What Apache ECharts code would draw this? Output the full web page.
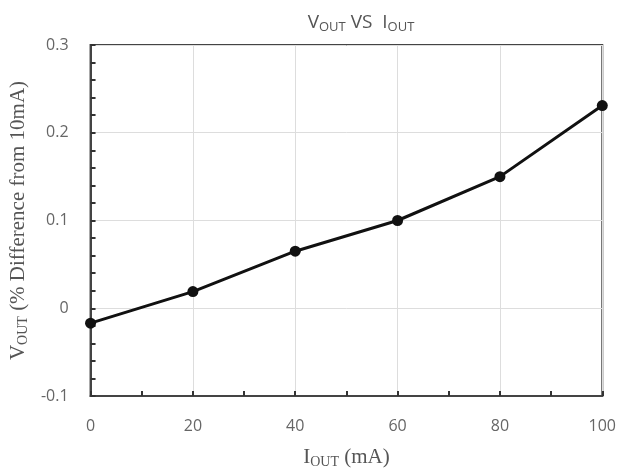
<!DOCTYPE html>
<html><head><meta charset="utf-8">
<script src="https://cdn.jsdelivr.net/npm/echarts@6/dist/echarts.min.js"></script>
<style>html,body{margin:0;padding:0;background:#fff}#c{width:619px;height:474px}</style>
</head><body><div id="c"></div>
<script>
const xValues = [0, 20, 40, 60, 80, 100];
const yValues = [-0.017, 0.019, 0.065, 0.1, 0.15, 0.231];
const xTicks = [0, 20, 40, 60, 80, 100];
const yTicks = [-0.1, 0, 0.1, 0.2, 0.3];

const chart = echarts.init(document.getElementById('c'));
chart.setOption({
  animation: false,
  title: {
    text: 'V{s|OUT} VS  I{s|OUT}',
    left: 356, top: 7, textAlign: 'center',
    textStyle: {fontFamily: 'Open Sans', fontWeight: 'normal', fontSize: 19, color: '#555',
      rich: {s: {fontFamily: 'Open Sans', fontSize: 13, color: '#555', padding: [9,0,0,0]}}}
  },
  grid: {left: 87, right: 16, top: 45, bottom: 77, show: true, borderColor: '#444', borderWidth: 2},
  xAxis: {
    type: 'value', min: 0, max: 100, interval: 20,
    name: 'I{s|OUT} (mA)', nameLocation: 'middle', nameGap: 50,
    nameTextStyle: {fontFamily: 'Liberation Serif', fontSize: 21, color: '#555',
      rich: {s: {fontFamily: 'Liberation Serif', fontSize: 14, color: '#555', padding: [9,0,0,0]}}},
    axisLine: {show: true, onZero: false, lineStyle: {color: '#444', width: 2}},
    axisTick: {show: true, inside: true, length: 5, lineStyle: {color: '#333', width: 2}},
    minorTick: {show: true, splitNumber: 2, length: 5, lineStyle: {color: '#333', width: 2}},
    axisLabel: {fontFamily: 'Open Sans', fontSize: 16, color: '#666', margin: 22},
    splitLine: {show: true, lineStyle: {color: '#ddd', width: 1}}
  },
  yAxis: {
    type: 'value', min: -0.1, max: 0.3, interval: 0.1,
    name: 'V{s|OUT} (% Difference from 10mA)', nameLocation: 'middle', nameGap: 58, nameRotate: 90,
    nameTextStyle: {fontFamily: 'Liberation Serif', fontSize: 21, color: '#555',
      rich: {s: {fontFamily: 'Liberation Serif', fontSize: 14, color: '#555', padding: [9,0,0,0]}}},
    axisLine: {show: true, onZero: false, lineStyle: {color: '#444', width: 2}},
    axisTick: {show: true, inside: true, length: 5, lineStyle: {color: '#333', width: 2}},
    minorTick: {show: true, splitNumber: 5, length: 5, lineStyle: {color: '#333', width: 2}},
    axisLabel: {fontFamily: 'Open Sans', fontSize: 16, color: '#666', margin: 22,
      formatter: v => (Math.round(v*10)/10).toString()},
    splitLine: {show: true, lineStyle: {color: '#ddd', width: 1}}
  },
  series: [{
    type: 'line',
    data: xValues.map((x, i) => [x, yValues[i]]),
    symbol: 'circle', symbolSize: 11,
    lineStyle: {color: '#111', width: 3},
    itemStyle: {color: '#111'}
  }]
});
</script></body></html>
